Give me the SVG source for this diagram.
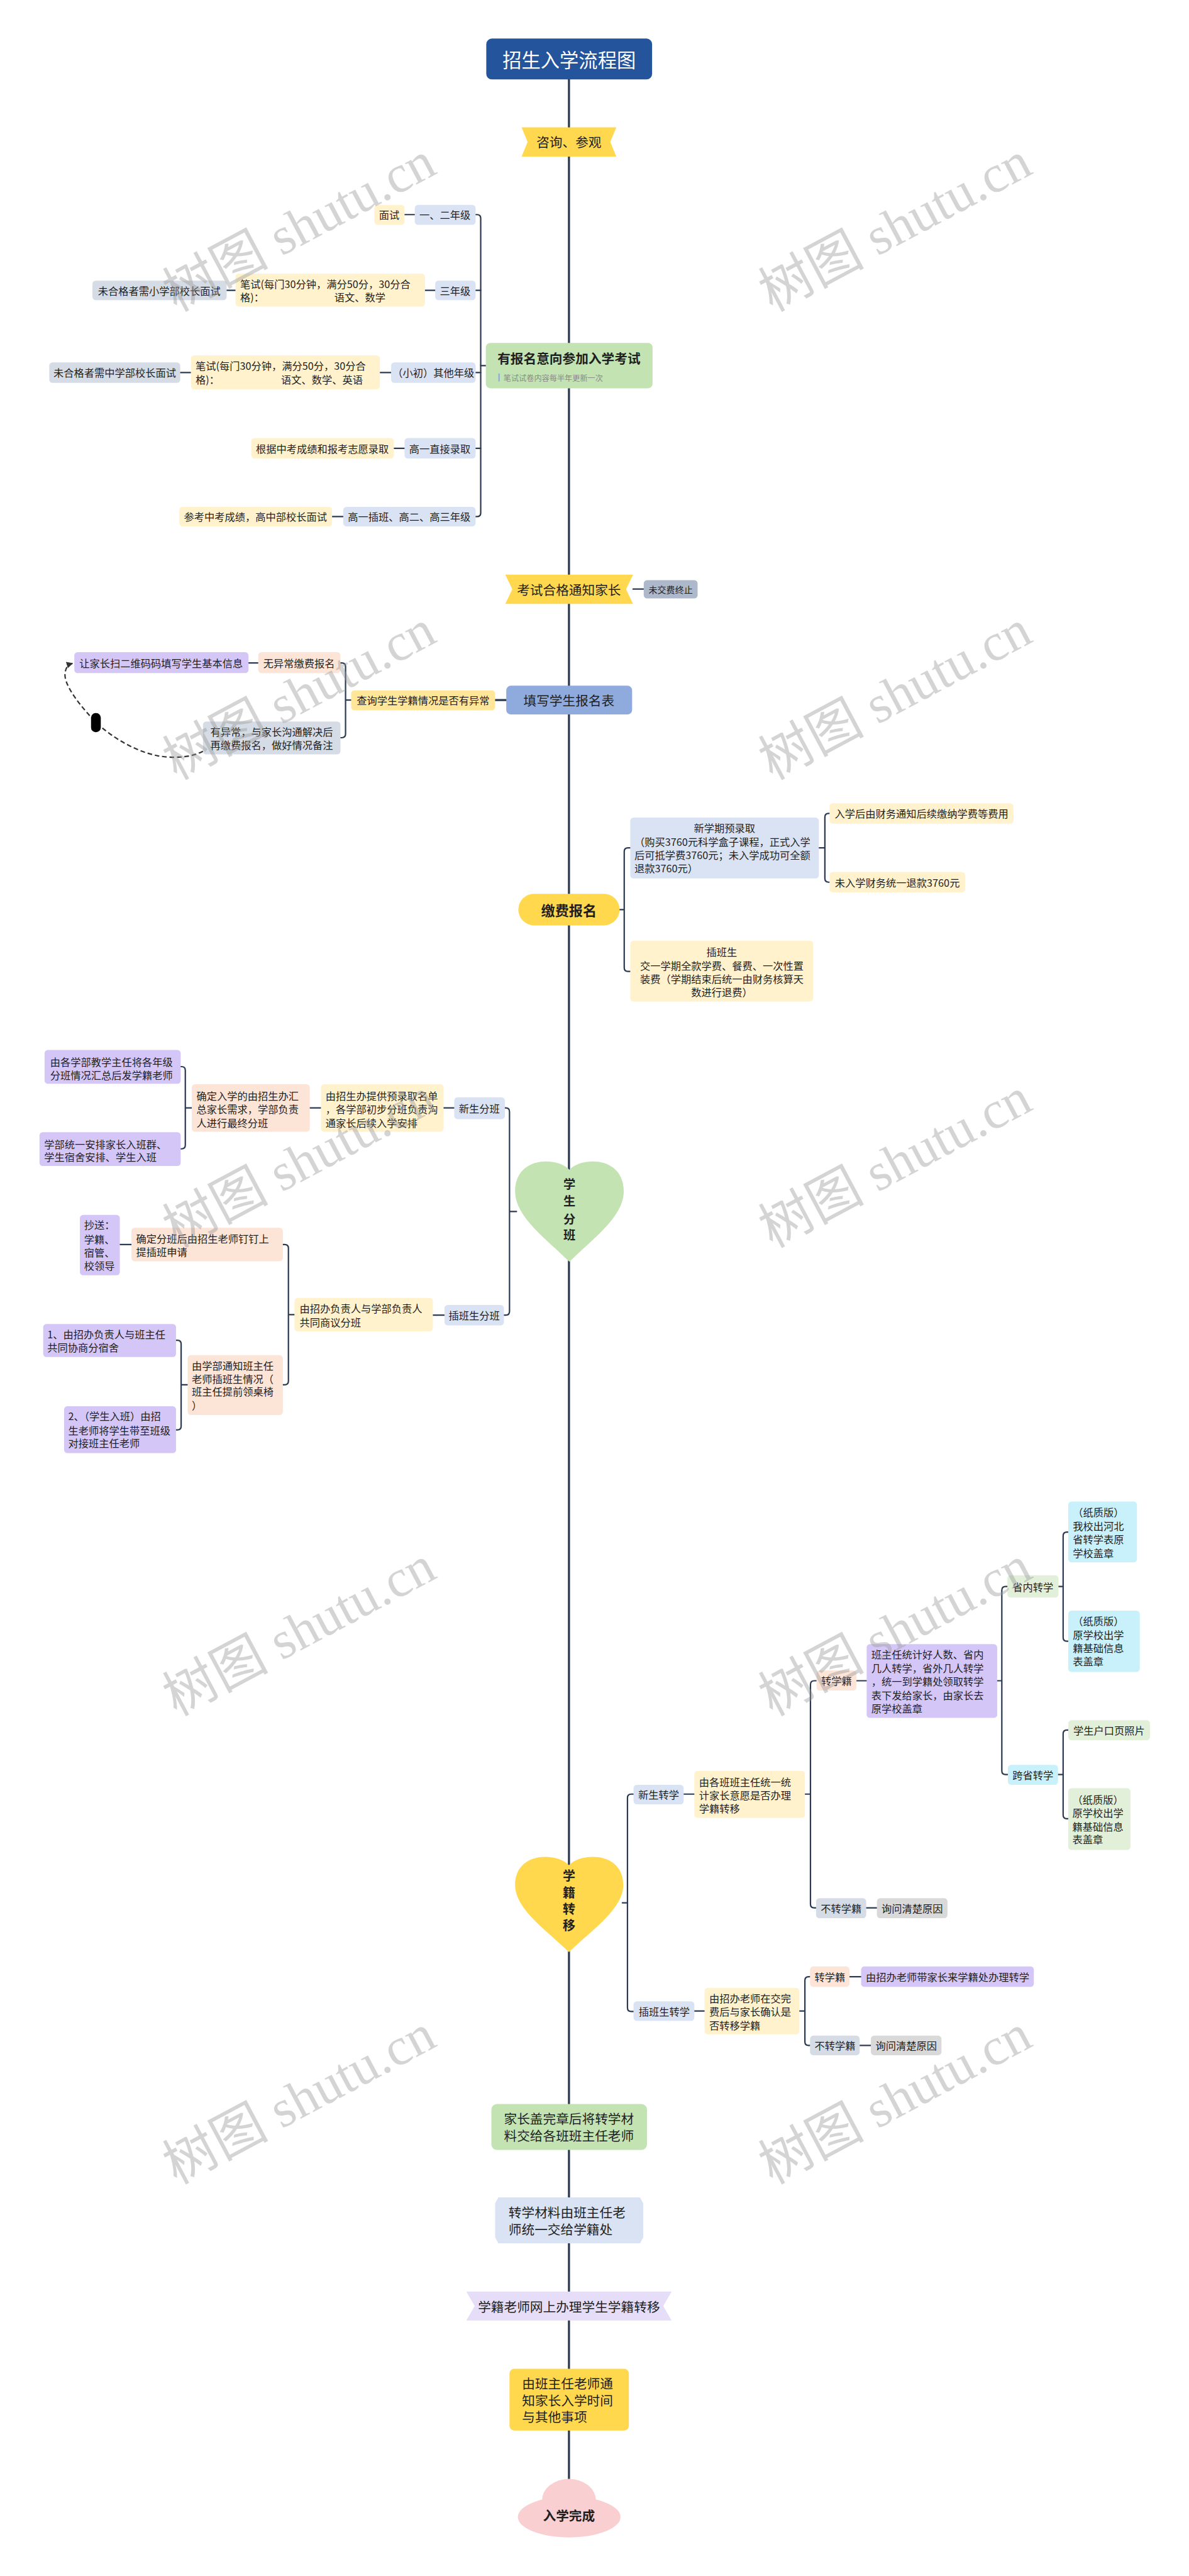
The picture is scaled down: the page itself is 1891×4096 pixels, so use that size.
<svg xmlns="http://www.w3.org/2000/svg" width="1891" height="4096" viewBox="0 0 1891 4096">
<style>
text{font-family:'Noto Sans CJK SC','Liberation Sans',sans-serif;font-size:22px;fill:#1f1f1f;dominant-baseline:central}
.m{text-anchor:middle}
.b{font-weight:bold}
.f28{font-size:28px}
.c{fill:none;stroke:#2B3A52;stroke-width:3;stroke-linecap:round;stroke-linejoin:round}
.blu{fill:#DAE3F3}.yel{fill:#FFF2CC}.gry{fill:#D6DCE5}.pch{fill:#FCE4D6}.pur{fill:#D5C6F8}.cyn{fill:#C9F1FB}.lgr{fill:#E2F0D9}.g2{fill:#D9D9D9}
.wm{font-family:'Liberation Serif','Noto Sans CJK SC',serif;font-size:114px;fill:#9a9a9a;opacity:.42;text-anchor:middle}
</style>
<defs>
<marker id="arr" viewBox="0 0 10 10" refX="9" refY="5" markerWidth="14" markerHeight="14" markerUnits="userSpaceOnUse" orient="auto">
<path d="M0,0 L10,5 L0,10 z" fill="#333"/>
</marker>
</defs>
<rect width="1891" height="4096" fill="#ffffff"/>
<g transform="scale(0.738672)">
<g id="connectors">
<path class="c" style="stroke-width:4.5" d="M1225 171 V5340"/>
<path class="c" d="M1046 787 H1035"/>
<path class="c" d="M1024 462 H1027 Q1035 462 1035 470 V1104 Q1035 1112 1027 1112 H1024"/>
<path class="c" d="M1035 625 H1024 M1035 802 H1024 M1035 965 H1024"/>
<path class="c" d="M871 462 H893 M915 625 H937 M488 625 H507 M818 802 H842 M388 802 H411 M848 965 H871 M715 1112 H739"/>
<path class="c" d="M1363 1268 H1386"/>
<path class="c" style="stroke-width:4.5" d="M1066 1507 H1090"/>
<path class="c" d="M756 1507 H744 M733 1427 H736 Q744 1427 744 1435 V1580 Q744 1588 736 1588 H733 M535 1427 H556"/>
<path fill="none" stroke="#333" stroke-width="3" stroke-dasharray="10 6" marker-end="url(#arr)" d="M437 1617 C410 1632 370 1632 340 1627 C280 1615 225 1575 200 1548 C160 1505 138 1470 140 1450 C141 1438 146 1431 156 1428"/>
<path class="c" d="M1334 1958 H1344 M1357 1825 H1352 Q1344 1825 1344 1833 V2083 Q1344 2091 1352 2091 H1357"/>
<path class="c" d="M1763 1825 H1776 M1786 1751 H1784 Q1776 1751 1776 1759 V1891 Q1776 1899 1784 1899 H1786"/>
<path class="c" d="M1112 2608 H1097 M1087 2385 H1089 Q1097 2385 1097 2393 V2823 Q1097 2831 1089 2831 H1085"/>
<path class="c" d="M978 2385 H955 M691 2385 H667"/>
<path class="c" d="M413 2385 H399 M389 2296 H391 Q399 2296 399 2304 V2465 Q399 2473 391 2473 H389"/>
<path class="c" d="M957 2831 H932"/>
<path class="c" d="M634 2830 H621 M609 2679 H613 Q621 2679 621 2687 V2973 Q621 2981 613 2981 H609"/>
<path class="c" d="M283 2679 H258"/>
<path class="c" d="M404 2981 H390 M379 2885 H382 Q390 2885 390 2893 V3070 Q390 3078 382 3078 H379"/>
<path class="c" d="M1340 4096 H1351 M1364 3862 H1359 Q1351 3862 1351 3870 V4322 Q1351 4330 1359 4330 H1364"/>
<path class="c" d="M1472 3862 H1495"/>
<path class="c" d="M1733 3862 H1745 M1758 3618 H1753 Q1745 3618 1745 3626 V4099 Q1745 4107 1753 4107 H1757"/>
<path class="c" d="M1844 3618 H1866"/>
<path class="c" d="M2147 3618 H2157 M2169 3415 H2165 Q2157 3415 2157 3423 V3812 Q2157 3820 2165 3820 H2170"/>
<path class="c" d="M2279 3415 H2289 M2300 3298 H2297 Q2289 3298 2289 3306 V3525 Q2289 3533 2297 3533 H2300"/>
<path class="c" d="M2278 3820 H2289 M2300 3724 H2297 Q2289 3724 2289 3732 V3907 Q2289 3915 2297 3915 H2300"/>
<path class="c" d="M1865 4107 H1888"/>
<path class="c" d="M1495 4329 H1517"/>
<path class="c" d="M1721 4329 H1733 M1744 4255 H1741 Q1733 4255 1733 4263 V4395 Q1733 4403 1741 4403 H1744"/>
<path class="c" d="M1829 4255 H1854 M1851 4403 H1875"/>
</g>
<rect x="196" y="1535" width="21" height="41" rx="10" fill="#000"/>

<g id="title"><rect x="1047" y="83" width="357" height="88" rx="12" fill="#23549C"/><text class="m" x="1225.5" y="127" style="font-size:41px;fill:#fff">招生入学流程图</text></g>
<g id="consult"><polygon points="1123,274 1327,274 1314,305.5 1327,337 1123,337 1136,305.5" fill="#FFD84F"/><text class="m f28" x="1225" y="305">咨询、参观</text></g>

<g id="exam"><rect x="1046" y="738" width="359" height="98" rx="10" fill="#C3E3B2"/><text class="m b f28" x="1225" y="770">有报名意向参加入学考试</text><rect x="1073" y="804" width="3" height="17" fill="#8FAADC"/><text x="1084" y="813" style="font-size:16.5px;fill:#8a8a8a">笔试试卷内容每半年更新一次</text></g>
<g id="g12"><rect class="blu" x="893" y="441" width="131" height="43" rx="7"/><text class="m" x="958" y="462">一、二年级</text></g>
<g id="interview"><rect class="yel" x="806" y="441" width="65" height="43" rx="7"/><text class="m" x="838" y="462">面试</text></g>
<g id="g3"><rect class="blu" x="937" y="604" width="87" height="42" rx="7"/><text class="m" x="980" y="625">三年级</text></g>
<g id="test1"><rect class="yel" x="507" y="589" width="408" height="71" rx="7"/><text><tspan x="517" y="611">笔试(每门30分钟，满分50分，30分合</tspan><tspan x="517" y="639">格)：</tspan><tspan x="720" y="639">语文、数学</tspan></text></g>
<g id="fail1"><rect class="gry" x="199" y="604" width="289" height="42" rx="7"/><text class="m" x="343" y="625">未合格者需小学部校长面试</text></g>
<g id="gother"><rect class="blu" x="842" y="780" width="182" height="44" rx="7"/><text class="m" x="933" y="802">（小初）其他年级</text></g>
<g id="test2"><rect class="yel" x="411" y="765" width="407" height="73" rx="7"/><text><tspan x="421" y="787">笔试(每门30分钟，满分50分，30分合</tspan><tspan x="421" y="817">格)：</tspan><tspan x="605" y="817">语文、数学、英语</tspan></text></g>
<g id="fail2"><rect class="gry" x="106" y="780" width="282" height="44" rx="7"/><text class="m" x="247" y="802">未合格者需中学部校长面试</text></g>
<g id="h1direct"><rect class="blu" x="871" y="943" width="153" height="44" rx="7"/><text class="m" x="947" y="965">高一直接录取</text></g>
<g id="h1score"><rect class="yel" x="541" y="943" width="307" height="44" rx="7"/><text class="m" x="694" y="965">根据中考成绩和报考志愿录取</text></g>
<g id="hother"><rect class="blu" x="739" y="1091" width="285" height="42" rx="7"/><text class="m" x="881" y="1112">高一插班、高二、高三年级</text></g>
<g id="hinterview"><rect class="yel" x="386" y="1091" width="329" height="42" rx="7"/><text class="m" x="550" y="1112">参考中考成绩，高中部校长面试</text></g>

<g id="notify"><polygon points="1088,1237 1363,1237 1348,1268.5 1363,1300 1088,1300 1103,1268.5" fill="#FFD84F"/><text class="m f28" x="1225" y="1268">考试合格通知家长</text></g>
<g id="stop"><rect x="1386" y="1249" width="116" height="39" rx="7" fill="#ADB9CA"/><text class="m" x="1444" y="1268" style="font-size:19px">未交费终止</text></g>

<g id="form"><rect x="1090" y="1476" width="271" height="62" rx="10" fill="#8FAADC"/><text class="m f28" x="1225" y="1507">填写学生报名表</text></g>
<g id="query"><rect x="756" y="1486" width="310" height="43" rx="7" fill="#FFE699"/><text class="m" x="911" y="1507">查询学生学籍情况是否有异常</text></g>
<g id="noabn"><rect class="pch" x="556" y="1404" width="177" height="45" rx="7"/><text class="m" x="644" y="1427">无异常缴费报名</text></g>
<g id="scan"><rect class="pur" x="160" y="1404" width="375" height="45" rx="7"/><text class="m" x="347" y="1427">让家长扫二维码码填写学生基本信息</text></g>
<g id="abn"><rect class="gry" x="437" y="1553" width="296" height="71" rx="7"/><text class="m"><tspan x="585" y="1575">有异常，与家长沟通解决后</tspan><tspan x="585" y="1603">再缴费报名，做好情况备注</tspan></text></g>

<g id="pay"><rect x="1116" y="1924" width="218" height="68" rx="34" fill="#FFD84D"/><text class="m b" x="1225" y="1958" style="font-size:30px">缴费报名</text></g>
<g id="pre"><rect class="blu" x="1357" y="1760" width="406" height="131" rx="7"/><text><tspan x="1560" y="1782" text-anchor="middle">新学期预录取</tspan><tspan x="1366" y="1812">（购买3760元科学盒子课程，正式入学</tspan><tspan x="1366" y="1840">后可抵学费3760元；未入学成功可全额</tspan><tspan x="1366" y="1868">退款3760元）</tspan></text></g>
<g id="after"><rect class="yel" x="1786" y="1729" width="396" height="44" rx="7"/><text class="m" x="1984" y="1751">入学后由财务通知后续缴纳学费等费用</text></g>
<g id="refund"><rect class="yel" x="1786" y="1877" width="292" height="44" rx="7"/><text class="m" x="1932" y="1899">未入学财务统一退款3760元</text></g>
<g id="transferpay"><rect class="yel" x="1357" y="2025" width="394" height="131" rx="7"/><text class="m"><tspan x="1554" y="2048">插班生</tspan><tspan x="1554" y="2078">交一学期全款学费、餐费、一次性置</tspan><tspan x="1554" y="2107">装费（学期结束后统一由财务核算天</tspan><tspan x="1554" y="2135">数进行退费）</tspan></text></g>

<g id="divide"><path d="M1226 2518 C1200 2490 1109 2488 1109 2565 C1109 2620 1180 2670 1226 2716 C1272 2670 1343 2620 1343 2565 C1343 2488 1252 2490 1226 2518 Z" fill="#C3E3B2"/><text class="m b" style="font-size:26px"><tspan x="1226" y="2548">学</tspan><tspan x="1226" y="2585">生</tspan><tspan x="1226" y="2623">分</tspan><tspan x="1226" y="2658">班</tspan></text></g>
<g id="newdiv"><rect class="blu" x="978" y="2362" width="109" height="47" rx="7"/><text class="m" x="1032" y="2385">新生分班</text></g>
<g id="prelist"><rect class="yel" x="691" y="2334" width="264" height="102" rx="7"/><text><tspan x="701" y="2358">由招生办提供预录取名单</tspan><tspan x="701" y="2387">，各学部初步分班负责沟</tspan><tspan x="701" y="2416">通家长后续入学安排</tspan></text></g>
<g id="final"><rect class="pch" x="413" y="2334" width="254" height="102" rx="7"/><text><tspan x="423" y="2358">确定入学的由招生办汇</tspan><tspan x="423" y="2387">总家长需求，学部负责</tspan><tspan x="423" y="2416">人进行最终分班</tspan></text></g>
<g id="summary"><rect class="pur" x="96" y="2260" width="293" height="73" rx="7"/><text><tspan x="108" y="2285">由各学部教学主任将各年级</tspan><tspan x="108" y="2313">分班情况汇总后发学籍老师</tspan></text></g>
<g id="arrange"><rect class="pur" x="85" y="2437" width="304" height="73" rx="7"/><text><tspan x="95" y="2462">学部统一安排家长入班群、</tspan><tspan x="95" y="2490">学生宿舍安排、学生入班</tspan></text></g>
<g id="insdiv"><rect class="blu" x="957" y="2809" width="128" height="44" rx="7"/><text class="m" x="1021" y="2831">插班生分班</text></g>
<g id="discuss"><rect class="yel" x="634" y="2794" width="298" height="72" rx="7"/><text><tspan x="645" y="2816">由招办负责人与学部负责人</tspan><tspan x="645" y="2845">共同商议分班</tspan></text></g>
<g id="ding"><rect class="pch" x="283" y="2643" width="326" height="72" rx="7"/><text><tspan x="293" y="2665">确定分班后由招生老师钉钉上</tspan><tspan x="293" y="2694">提插班申请</tspan></text></g>
<g id="cc"><rect class="pur" x="172" y="2615" width="86" height="130" rx="7"/><text><tspan x="181" y="2636">抄送：</tspan><tspan x="181" y="2667">学籍、</tspan><tspan x="181" y="2696">宿管、</tspan><tspan x="181" y="2724">校领导</tspan></text></g>
<g id="inform"><rect class="pch" x="404" y="2917" width="205" height="129" rx="7"/><text><tspan x="413" y="2939">由学部通知班主任</tspan><tspan x="413" y="2967">老师插班生情况（</tspan><tspan x="413" y="2995">班主任提前领桌椅</tspan><tspan x="413" y="3025">）</tspan></text></g>
<g id="dorm"><rect class="pur" x="93" y="2850" width="286" height="71" rx="7"/><text><tspan x="102" y="2872">1、由招办负责人与班主任</tspan><tspan x="102" y="2900">共同协商分宿舍</tspan></text></g>
<g id="enter"><rect class="pur" x="138" y="3027" width="241" height="101" rx="7"/><text><tspan x="147" y="3048">2、（学生入班）由招</tspan><tspan x="147" y="3078">生老师将学生带至班级</tspan><tspan x="147" y="3106">对接班主任老师</tspan></text></g>

<g id="transfer"><path d="M1225 4015 C1199 3987 1109 3985 1109 4058 C1109 4110 1180 4158 1225 4202 C1270 4158 1342 4110 1342 4058 C1342 3985 1251 3987 1225 4015 Z" fill="#FFD84D"/><text class="m b" style="font-size:27px"><tspan x="1225" y="4035">学</tspan><tspan x="1225" y="4072">籍</tspan><tspan x="1225" y="4108">转</tspan><tspan x="1225" y="4143">移</tspan></text></g>
<g id="newtr"><rect class="blu" x="1364" y="3842" width="108" height="42" rx="7"/><text class="m" x="1418" y="3863">新生转学</text></g>
<g id="count"><rect class="yel" x="1495" y="3812" width="238" height="101" rx="7"/><text><tspan x="1505" y="3835">由各班班主任统一统</tspan><tspan x="1505" y="3864">计家长意愿是否办理</tspan><tspan x="1505" y="3892">学籍转移</tspan></text></g>
<g id="tr1"><rect class="pch" x="1758" y="3596" width="86" height="43" rx="7"/><text class="m" x="1801" y="3618">转学籍</text></g>
<g id="stat"><rect class="pur" x="1866" y="3539" width="281" height="159" rx="7"/><text><tspan x="1876" y="3561">班主任统计好人数、省内</tspan><tspan x="1876" y="3590">几人转学，省外几人转学</tspan><tspan x="1876" y="3619">，统一到学籍处领取转学</tspan><tspan x="1876" y="3648">表下发给家长，由家长去</tspan><tspan x="1876" y="3677">原学校盖章</tspan></text></g>
<g id="inprov"><rect class="lgr" x="2169" y="3391" width="110" height="48" rx="7"/><text class="m" x="2224" y="3415">省内转学</text></g>
<g id="paper1"><rect class="cyn" x="2300" y="3232" width="148" height="131" rx="7"/><text><tspan x="2310" y="3255">（纸质版）</tspan><tspan x="2310" y="3284">我校出河北</tspan><tspan x="2310" y="3313">省转学表原</tspan><tspan x="2310" y="3342">学校盖章</tspan></text></g>
<g id="paper2"><rect class="cyn" x="2300" y="3467" width="154" height="132" rx="7"/><text><tspan x="2310" y="3489">（纸质版）</tspan><tspan x="2310" y="3518">原学校出学</tspan><tspan x="2310" y="3547">籍基础信息</tspan><tspan x="2310" y="3576">表盖章</tspan></text></g>
<g id="crossprov"><rect class="cyn" x="2170" y="3799" width="108" height="43" rx="7"/><text class="m" x="2224" y="3820">跨省转学</text></g>
<g id="hukou"><rect class="lgr" x="2300" y="3703" width="176" height="43" rx="7"/><text class="m" x="2388" y="3724">学生户口页照片</text></g>
<g id="paper3"><rect class="lgr" x="2300" y="3849" width="134" height="133" rx="7"/><text><tspan x="2309" y="3873">（纸质版）</tspan><tspan x="2309" y="3902">原学校出学</tspan><tspan x="2309" y="3931">籍基础信息</tspan><tspan x="2309" y="3959">表盖章</tspan></text></g>
<g id="notr1"><rect class="gry" x="1757" y="4086" width="108" height="43" rx="7"/><text class="m" x="1811" y="4107">不转学籍</text></g>
<g id="ask1"><rect class="g2" x="1888" y="4086" width="152" height="43" rx="7"/><text class="m" x="1964" y="4107">询问清楚原因</text></g>
<g id="instr"><rect class="blu" x="1364" y="4308" width="131" height="42" rx="7"/><text class="m" x="1430" y="4329">插班生转学</text></g>
<g id="confirm"><rect class="yel" x="1517" y="4279" width="204" height="100" rx="7"/><text><tspan x="1527" y="4301">由招办老师在交完</tspan><tspan x="1527" y="4330">费后与家长确认是</tspan><tspan x="1527" y="4359">否转移学籍</tspan></text></g>
<g id="tr2"><rect class="pch" x="1744" y="4233" width="85" height="44" rx="7"/><text class="m" x="1787" y="4255">转学籍</text></g>
<g id="lead"><rect class="pur" x="1854" y="4233" width="372" height="44" rx="7"/><text class="m" x="2040" y="4255">由招办老师带家长来学籍处办理转学</text></g>
<g id="notr2"><rect class="gry" x="1744" y="4382" width="107" height="42" rx="7"/><text class="m" x="1798" y="4403">不转学籍</text></g>
<g id="ask2"><rect class="g2" x="1875" y="4382" width="152" height="42" rx="7"/><text class="m" x="1951" y="4403">询问清楚原因</text></g>

<g id="stamp"><rect x="1058" y="4529" width="335" height="99" rx="12" fill="#C3E3B2"/><text class="m f28"><tspan x="1225" y="4559">家长盖完章后将转学材</tspan><tspan x="1225" y="4596">料交给各班班主任老师</tspan></text></g>
<g id="hand"><polygon points="1073,4730 1378,4730 1385,4743 1385,4816 1378,4829 1073,4829 1066,4816 1066,4743" fill="#DAE3F3"/><text class="f28"><tspan x="1095" y="4761">转学材料由班主任老</tspan><tspan x="1095" y="4798">师统一交给学籍处</tspan></text></g>
<g id="online"><polygon points="1004,4933 1446,4933 1428,4964 1446,4995 1004,4995 1022,4964" fill="#E6DDF8"/><text class="m f28" x="1225" y="4964">学籍老师网上办理学生学籍转移</text></g>
<g id="time"><rect x="1097" y="5099" width="257" height="133" rx="10" fill="#FFD84D"/><text class="f28"><tspan x="1124" y="5130">由班主任老师通</tspan><tspan x="1124" y="5166">知家长入学时间</tspan><tspan x="1124" y="5201">与其他事项</tspan></text></g>
<g id="done"><ellipse cx="1225.5" cy="5418" rx="110.5" ry="44" fill="#F9CFD1"/><ellipse cx="1225" cy="5382" rx="58" ry="46" fill="#F9CFD1"/><text class="m b f28" x="1225" y="5414">入学完成</text></g>

<g id="watermarks">
<text class="wm" transform="translate(644,488) rotate(-28)">树图 shutu.cn</text>
<text class="wm" transform="translate(1927,488) rotate(-28)">树图 shutu.cn</text>
<text class="wm" transform="translate(644,1496) rotate(-28)">树图 shutu.cn</text>
<text class="wm" transform="translate(1927,1496) rotate(-28)">树图 shutu.cn</text>
<text class="wm" transform="translate(644,2503) rotate(-28)">树图 shutu.cn</text>
<text class="wm" transform="translate(1927,2503) rotate(-28)">树图 shutu.cn</text>
<text class="wm" transform="translate(644,3511) rotate(-28)">树图 shutu.cn</text>
<text class="wm" transform="translate(1927,3511) rotate(-28)">树图 shutu.cn</text>
<text class="wm" transform="translate(644,4519) rotate(-28)">树图 shutu.cn</text>
<text class="wm" transform="translate(1927,4519) rotate(-28)">树图 shutu.cn</text>
</g>
</g>
</svg>
